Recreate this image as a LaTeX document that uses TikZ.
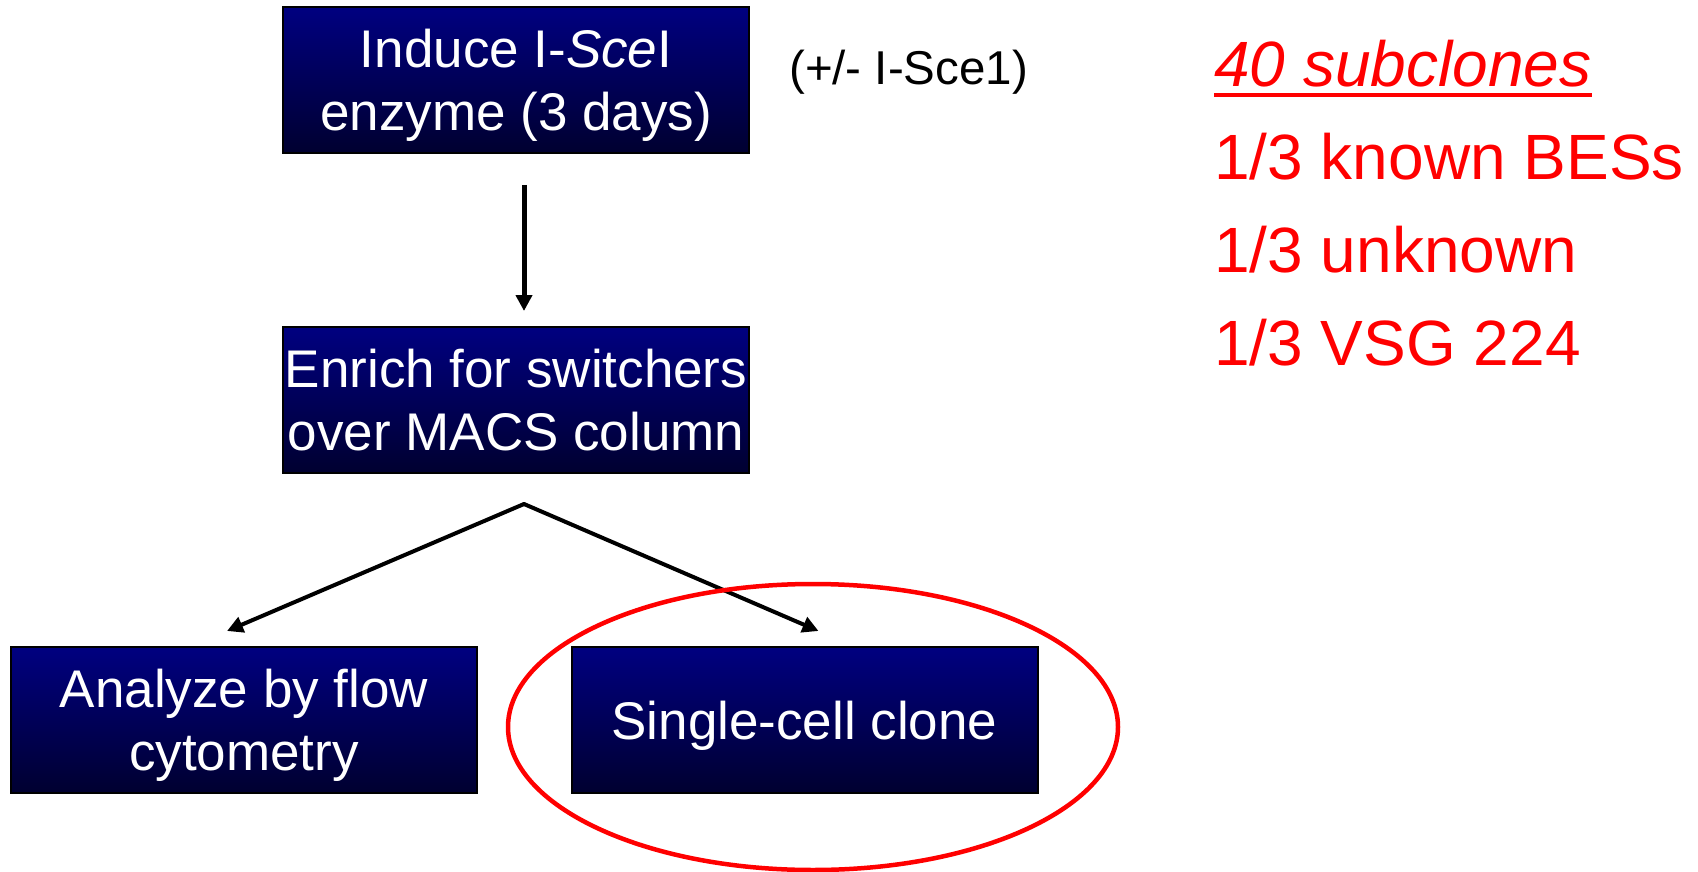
\documentclass[tikz,border=0pt]{standalone}
\usepackage{fontspec}
\setmainfont{Liberation Sans}
\usetikzlibrary{arrows.meta,shapes.geometric}
\definecolor{boxtop}{RGB}{0,0,128}
\definecolor{boxbot}{RGB}{0,0,48}
\definecolor{pptred}{RGB}{255,0,0}
\tikzset{
  stepbox/.style={draw=black, line width=2pt, top color=boxtop, bottom color=boxbot,
    text=white, align=center, minimum width=466pt, minimum height=146pt, inner sep=0pt,
    text depth=0pt, font=\fontsize{53}{63}\selectfont},
  arr/.style={line width=4pt, -{Triangle[length=16pt,width=16pt]}},
  redtext/.style={text=pptred, anchor=base west, inner sep=0pt, font=\fontsize{64}{76}\selectfont},
}
\begin{document}
\begin{tikzpicture}[x=1pt,y=-1pt]
\useasboundingbox (0,0) rectangle (1698,872);
\node[stepbox] (box1) at (516,80) {Induce I-\textit{Sce}I\\enzyme (3 days)};
\node[stepbox] (box2) at (516,400) {Enrich for switchers\\over MACS column};
\node[stepbox] (box3) at (244,720) {Analyze by flow\\cytometry};
\node[stepbox] (box4) at (804.5,720) {Single-cell clone};
\node[anchor=base west, inner sep=0pt, font=\fontsize{47.5}{56}\selectfont] (note) at (789,85) {(+/- I-Sce1)};
\coordinate (fork) at ([xshift=8pt,yshift=-30pt]box2.south);
\draw[arr, line width=5pt] ([xshift=8pt,yshift=-31pt]box1.south) -- ([xshift=8pt,yshift=15pt]box2.north);
\draw[arr, line cap=round] (fork) -- ([xshift=-17pt,yshift=15pt]box3.north);
\draw[arr, line cap=round] (fork) -- ([xshift=14pt,yshift=15pt]box4.north);
\node[draw=pptred, line width=4.5pt, ellipse, minimum width=610pt, minimum height=286pt, inner sep=0pt] (circ) at (813,727) {};
\node[redtext] (t0) at (1214,87) {\textit{40 subclones}};
\draw[pptred, line width=4.5pt] ([yshift=-8pt]t0.base west) -- ([yshift=-8pt]t0.base east);
\node[redtext] (t1) at (1214,179) {1/3 known BESs};
\node[redtext] (t2) at (1214,272) {1/3 unknown};
\node[redtext] (t3) at (1214,365) {1/3 VSG 224};
\end{tikzpicture}
\end{document}
